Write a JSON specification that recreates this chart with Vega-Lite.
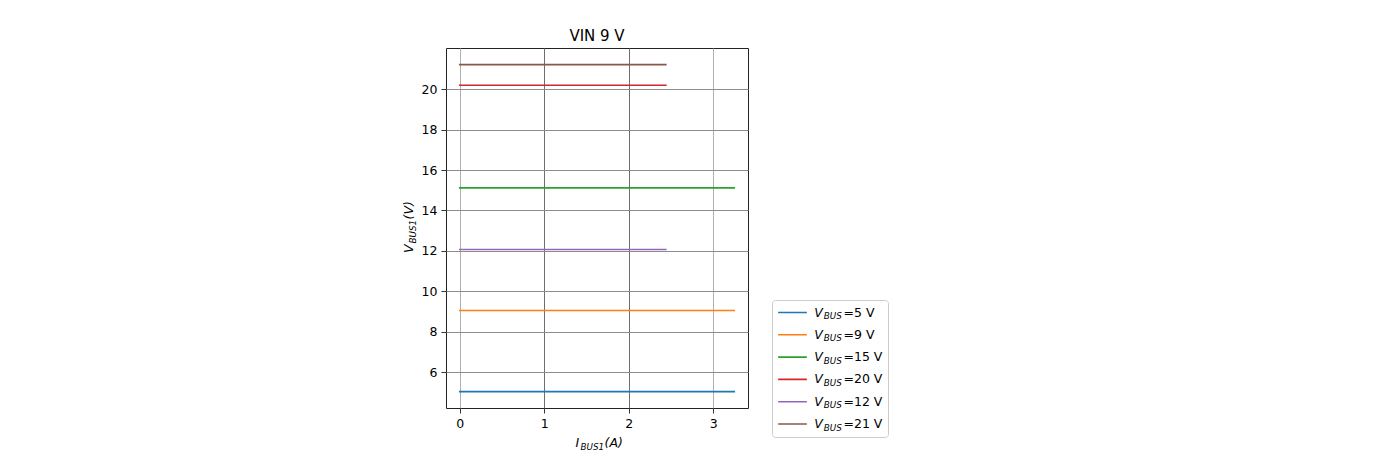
{
  "$schema": "https://vega.github.io/schema/vega-lite/v6.json",
  "width": 302,
  "height": 360,
  "autosize": {"type": "none"},
  "padding": {"left": 446, "top": 48, "right": 625, "bottom": 58},
  "background": "white",
  "config": {
    "font": "DejaVu Sans",
    "view": {"stroke": "#222222", "strokeWidth": 1}
  },
  "title": {
    "text": "VIN 9 V",
    "fontSize": 15,
    "fontWeight": "normal",
    "color": "#000000",
    "frame": "group",
    "anchor": "middle",
    "baseline": "alphabetic",
    "offset": -8.2
  },
  "data": {
    "values": [
      {"i": 0.0, "v": 5.05, "vbus": 5}, {"i": 0.5, "v": 5.05, "vbus": 5}, {"i": 1.0, "v": 5.05, "vbus": 5}, {"i": 1.5, "v": 5.05, "vbus": 5},
      {"i": 2.0, "v": 5.05, "vbus": 5}, {"i": 2.5, "v": 5.05, "vbus": 5}, {"i": 3.0, "v": 5.05, "vbus": 5}, {"i": 3.25, "v": 5.05, "vbus": 5},
      {"i": 0.0, "v": 9.06, "vbus": 9}, {"i": 0.5, "v": 9.06, "vbus": 9}, {"i": 1.0, "v": 9.06, "vbus": 9}, {"i": 1.5, "v": 9.06, "vbus": 9},
      {"i": 2.0, "v": 9.06, "vbus": 9}, {"i": 2.5, "v": 9.06, "vbus": 9}, {"i": 3.0, "v": 9.06, "vbus": 9}, {"i": 3.25, "v": 9.06, "vbus": 9},
      {"i": 0.0, "v": 15.12, "vbus": 15}, {"i": 0.5, "v": 15.12, "vbus": 15}, {"i": 1.0, "v": 15.12, "vbus": 15}, {"i": 1.5, "v": 15.12, "vbus": 15},
      {"i": 2.0, "v": 15.12, "vbus": 15}, {"i": 2.5, "v": 15.12, "vbus": 15}, {"i": 3.0, "v": 15.12, "vbus": 15}, {"i": 3.25, "v": 15.12, "vbus": 15},
      {"i": 0.0, "v": 20.19, "vbus": 20}, {"i": 0.5, "v": 20.19, "vbus": 20}, {"i": 1.0, "v": 20.19, "vbus": 20}, {"i": 1.5, "v": 20.19, "vbus": 20},
      {"i": 2.0, "v": 20.19, "vbus": 20}, {"i": 2.44, "v": 20.19, "vbus": 20},
      {"i": 0.0, "v": 12.07, "vbus": 12}, {"i": 0.5, "v": 12.07, "vbus": 12}, {"i": 1.0, "v": 12.07, "vbus": 12}, {"i": 1.5, "v": 12.07, "vbus": 12},
      {"i": 2.0, "v": 12.07, "vbus": 12}, {"i": 2.44, "v": 12.07, "vbus": 12},
      {"i": 0.0, "v": 21.21, "vbus": 21}, {"i": 0.5, "v": 21.21, "vbus": 21}, {"i": 1.0, "v": 21.21, "vbus": 21}, {"i": 1.5, "v": 21.21, "vbus": 21},
      {"i": 2.0, "v": 21.21, "vbus": 21}, {"i": 2.44, "v": 21.21, "vbus": 21}
    ]
  },
  "layer": [
    {
      "mark": {"type": "line", "strokeWidth": 1.6, "strokeCap": "square"},
      "encoding": {
        "x": {
          "field": "i", "type": "quantitative",
          "scale": {"domain": [-0.1625, 3.4125], "nice": false, "zero": false},
          "axis": {
            "orient": "bottom", "values": [0, 1, 2, 3], "format": "d",
            "labelFontSize": 12.5, "labelColor": "#000000", "labelPadding": 4,
            "tickSize": 5, "tickColor": "#333333", "domain": false,
            "grid": true, "gridWidth": 1,
            "gridColor": {"condition": {"test": "datum.value == 1 || datum.value == 2", "value": "#6e6e6e"}, "value": "#b0b0b0"},
            "title": "I", "titleFontSize": 12.5, "titleFontStyle": "italic", "titleFontWeight": "normal", "titleColor": "#000000",
            "titleX": 129, "titleY": 38.5, "titleAlign": "left", "titleBaseline": "alphabetic"
          }
        },
        "y": {
          "field": "v", "type": "quantitative",
          "scale": {"domain": [4.24, 22.03], "nice": false, "zero": false},
          "axis": {
            "orient": "left", "values": [6, 8, 10, 12, 14, 16, 18, 20],
            "labelFontSize": 12.5, "labelColor": "#000000", "labelPadding": 4,
            "tickSize": 5, "tickColor": "#333333", "domain": false,
            "grid": true, "gridWidth": 1, "gridColor": "#8c8c8c",
            "title": "V", "titleFontSize": 12.5, "titleFontStyle": "italic", "titleFontWeight": "normal", "titleColor": "#000000",
            "titleAngle": -90, "titleX": -33.5, "titleY": 204.5, "titleAlign": "left", "titleBaseline": "alphabetic"
          }
        },
        "color": {
          "field": "vbus", "type": "nominal",
          "scale": {"domain": [5, 9, 15, 20, 12, 21], "range": ["#1f77b4", "#ff7f0e", "#2ca02c", "#d62728", "#9467bd", "#8c564b"]},
          "legend": {
            "orient": "none", "legendX": 327, "legendY": 253, "padding": 4, "title": null,
            "symbolType": "stroke", "symbolSize": 824, "symbolStrokeWidth": 1.6,
            "clipHeight": 15, "rowPadding": 7.3,
            "labelExpr": "'V'", "labelFontSize": 12.5, "labelFontStyle": "italic", "labelColor": "#000000",
            "labelOffset": 6.3, "labelBaseline": "middle"
          }
        }
      }
    },
    {
      "mark": {"type": "line", "opacity": 0},
      "encoding": {
        "x": {
          "field": "i", "type": "quantitative",
          "axis": {
            "orient": "bottom", "labels": false, "ticks": false, "domain": false, "grid": false,
            "title": "BUS1", "titleFontSize": 8.75, "titleFontStyle": "italic", "titleFontWeight": "normal", "titleColor": "#000000",
            "titleX": 134, "titleY": 41, "titleAlign": "left", "titleBaseline": "alphabetic"
          }
        },
        "y": {
          "field": "v", "type": "quantitative",
          "axis": {
            "orient": "left", "labels": false, "ticks": false, "domain": false, "grid": false,
            "title": "BUS1", "titleFontSize": 8.75, "titleFontStyle": "italic", "titleFontWeight": "normal", "titleColor": "#000000",
            "titleAngle": -90, "titleX": -31, "titleY": 195, "titleAlign": "left", "titleBaseline": "alphabetic"
          }
        },
        "color": {
          "field": "vbus", "type": "nominal",
          "scale": {"domain": [5, 9, 15, 20, 12, 21]},
          "legend": {
            "orient": "none", "legendX": 327, "legendY": 256.5, "padding": 4, "title": null,
            "symbolSize": 0, "symbolOpacity": 0,
            "clipHeight": 15, "rowPadding": 7.3,
            "labelExpr": "'BUS'", "labelFontSize": 8.75, "labelFontStyle": "italic", "labelColor": "#000000",
            "labelOffset": 38, "labelBaseline": "middle"
          }
        }
      }
    },
    {
      "mark": {"type": "line", "opacity": 0},
      "encoding": {
        "x": {
          "field": "i", "type": "quantitative",
          "axis": {
            "orient": "bottom", "labels": false, "ticks": false, "domain": false, "grid": false,
            "title": "(A)", "titleFontSize": 12.5, "titleFontStyle": "italic", "titleFontWeight": "normal", "titleColor": "#000000",
            "titleX": 158, "titleY": 38.5, "titleAlign": "left", "titleBaseline": "alphabetic"
          }
        },
        "y": {
          "field": "v", "type": "quantitative",
          "axis": {
            "orient": "left", "labels": false, "ticks": false, "domain": false, "grid": false,
            "title": "(V)", "titleFontSize": 12.5, "titleFontStyle": "italic", "titleFontWeight": "normal", "titleColor": "#000000",
            "titleAngle": -90, "titleX": -33.5, "titleY": 171, "titleAlign": "left", "titleBaseline": "alphabetic"
          }
        },
        "color": {
          "field": "vbus", "type": "nominal",
          "scale": {"domain": [5, 9, 15, 20, 12, 21]},
          "legend": {
            "orient": "none", "legendX": 326, "legendY": 252, "padding": 5, "title": null,
            "symbolSize": 0, "symbolOpacity": 0,
            "clipHeight": 15, "rowPadding": 7.3,
            "labelExpr": "'=' + datum.label + ' V'", "labelFontSize": 12.5, "labelColor": "#000000",
            "labelOffset": 54, "labelBaseline": "middle",
            "strokeColor": "#cccccc", "cornerRadius": 3
          }
        }
      }
    }
  ],
  "resolve": {
    "scale": {"color": "independent"},
    "axis": {"x": "independent", "y": "independent"}
  }
}
